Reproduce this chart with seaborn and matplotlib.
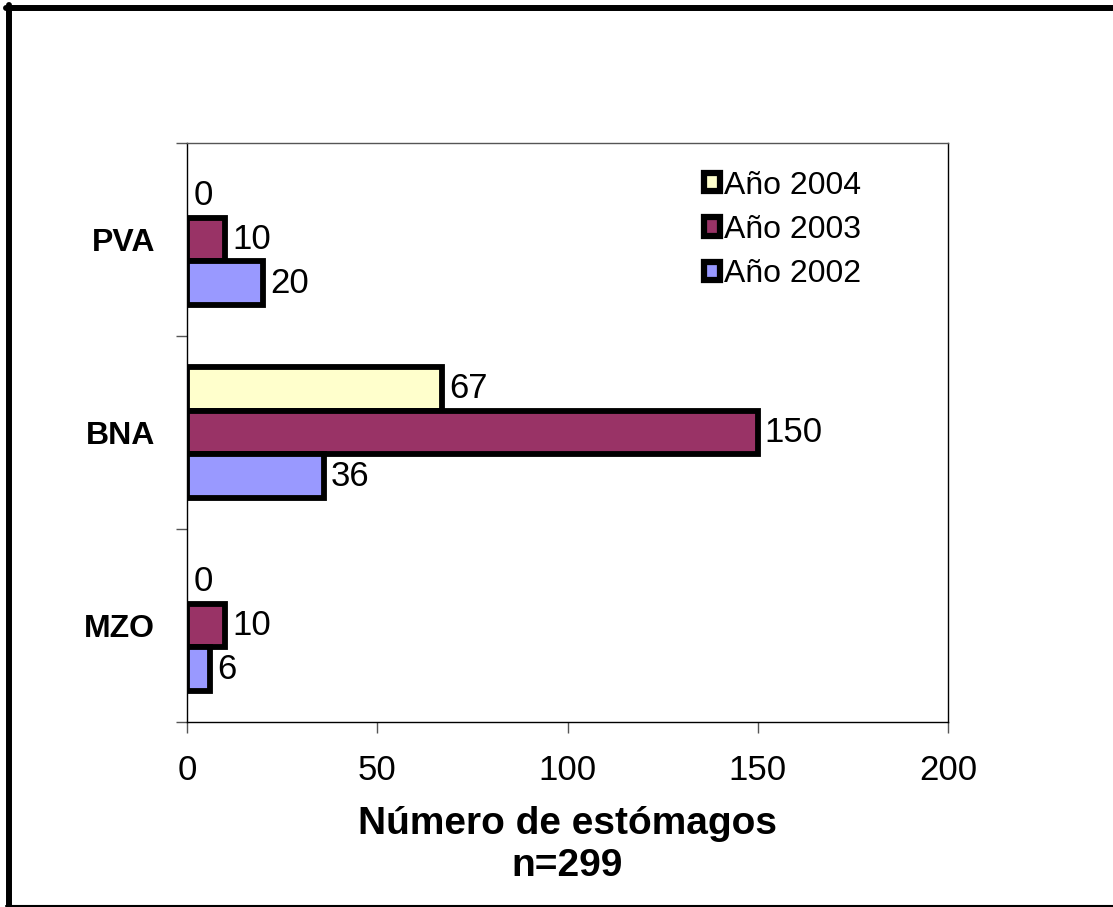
import pandas as pd
import matplotlib.pyplot as plt
import seaborn as sns
from matplotlib.lines import Line2D
from matplotlib.patches import Rectangle

# datos
lugares = ['PVA', 'BNA', 'MZO']
anios = ['Año 2004', 'Año 2003', 'Año 2002']
n_2004 = [0, 67, 0]
n_2003 = [10, 150, 10]
n_2002 = [20, 36, 6]
colores = ['#FFFFCC', '#993366', '#9999FF']
x_ticks = [0, 50, 100, 150, 200]


def plot_estomagos():
    df = pd.DataFrame({
        'lugar': lugares * 3,
        'anio': [anios[0]] * 3 + [anios[1]] * 3 + [anios[2]] * 3,
        'n': n_2004 + n_2003 + n_2002,
    })

    sns.set_style('white')
    plt.rcParams['font.family'] = ['Liberation Sans', 'DejaVu Sans']
    plt.rcParams['text.color'] = 'black'
    plt.rcParams['axes.labelcolor'] = 'black'
    plt.rcParams['xtick.labelcolor'] = 'black'
    plt.rcParams['ytick.labelcolor'] = 'black'

    fig = plt.figure(figsize=(11.13, 9.07), dpi=100)
    ax = fig.add_axes([187 / 1113, 1 - 722 / 907, (948 - 187) / 1113, (722 - 143) / 907])

    sns.barplot(data=df, y='lugar', x='n', hue='anio', order=lugares,
                hue_order=anios, palette=colores, orient='h', width=0.68,
                edgecolor='black', linewidth=4.2, saturation=1, ax=ax)

    # barras con valor 0 sin borde
    for cont in ax.containers:
        for p in cont.patches:
            if p.get_width() == 0:
                p.set_linewidth(0)
        ax.bar_label(cont, fmt='%g', padding=5, fontsize=25)

    ax.set_xlim(0, 200)
    ax.set_ylim(2.5, -0.5)
    ax.set_xticks(x_ticks)
    ax.set_yticks(range(len(lugares)))
    ax.set_yticklabels(lugares, fontsize=23, fontweight='bold')
    ax.set_yticks([-0.5, 0.5, 1.5, 2.5], minor=True)
    ax.tick_params(axis='x', which='major', direction='out', length=8, width=1,
                   color='#555555', labelsize=25, pad=15, bottom=True)
    ax.tick_params(axis='y', which='major', length=0, pad=23, left=True)
    ax.tick_params(axis='y', which='minor', direction='out', length=8, width=1,
                   color='#555555', left=True)

    for s in ax.spines.values():
        s.set_visible(True)
        s.set_color('black')
        s.set_linewidth(1)
    ax.spines['top'].set_color('#555555')

    ax.set_ylabel('')
    ax.set_xlabel('Número de estómagos\nn=299', fontsize=28, fontweight='bold',
                  labelpad=14, linespacing=1.2)

    # leyenda con cuadritos
    handles = [Rectangle((0, 0), 1, 1, facecolor=c, edgecolor='black', linewidth=4.5)
               for c in colores]
    ax.legend(handles, anios, loc='upper left', bbox_to_anchor=(0.658, 0.98),
              frameon=False, fontsize=23, handlelength=0.5, handleheight=0.5,
              handletextpad=0.15, labelspacing=0.45, borderpad=0)

    # marco del grafico
    fig.add_artist(Line2D([6 / 1113, 1], [1 - 8 / 907, 1 - 8 / 907], color='black',
                          lw=4.3, transform=fig.transFigure))
    fig.add_artist(Line2D([9 / 1113, 9 / 1113], [1 - 5 / 907, 1 - 906 / 907], color='black',
                          lw=4.3, transform=fig.transFigure))
    fig.add_artist(Line2D([6 / 1113, 1], [1 - 905.5 / 907, 1 - 905.5 / 907], color='black',
                          lw=1.5, transform=fig.transFigure))

    fig.savefig('out.png', dpi=100)
    plt.close(fig)


if __name__ == "__main__":
    plot_estomagos()
